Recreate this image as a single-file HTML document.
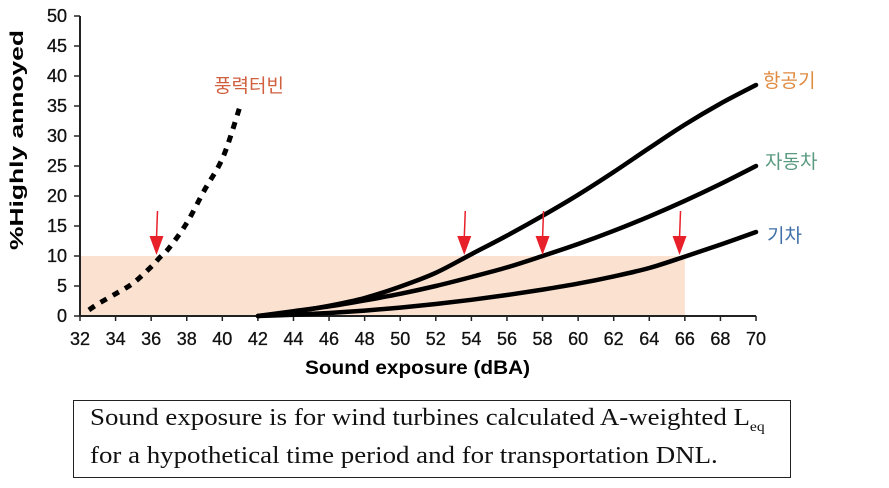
<!DOCTYPE html>
<html><head><meta charset="utf-8"><style>
body{margin:0;background:#fff;width:889px;height:488px;overflow:hidden}
svg{position:absolute;left:0;top:0}
.caption{position:absolute;left:73px;top:400px;width:718px;height:78px;border:1.5px solid #222;box-sizing:border-box;color:#111}
.caption span{position:absolute;left:16px;top:3px;font-family:"Liberation Serif",serif;font-size:24px;line-height:28px;white-space:nowrap;transform:scaleX(1.12);transform-origin:0 0}
</style></head><body>
<svg id="chart" width="889" height="400"></svg>
<div class="caption"><span>Sound exposure is for wind turbines calculated A-weighted L<sub style="font-size:14px">eq</sub><br>for a hypothetical time period and for transportation DNL.</span></div>
<script>
const xTicks=[32,34,36,38,40,42,44,46,48,50,52,54,56,58,60,62,64,66,68,70];
const yTicks=[0,5,10,15,20,25,30,35,40,45,50];
const transX=[42,44,46,48,50,52,54,56,58,60,62,64,66,68,70];
const aircraft=[0,0.7,1.7,3,4.9,7.2,10.3,13.4,16.7,20.2,24,28,31.9,35.4,38.5];
const road=[0,0.8,1.6,2.6,3.7,5,6.5,8.1,10,12,14.2,16.6,19.2,22,25];
const rail=[0,0.2,0.5,0.9,1.4,2,2.7,3.5,4.4,5.4,6.6,8,9.9,11.9,14];
const windX=[32.5,33,34,35,36,36.5,37,38,39,39.8,40.3,41];
const wind=[1,2,3.7,5.5,8.2,9.8,11.3,15.5,21,25,28.5,35];
const arrowX=[36.3,53.6,58,65.7];
const xs=v=>80+(v-32)*17.79, ys=v=>316-v*6;
const svg=document.getElementById('chart');const NS='http://www.w3.org/2000/svg';
function mk(t,a,p){const e=document.createElementNS(NS,t);for(const k in a)e.setAttribute(k,a[k]);(p||svg).appendChild(e);return e;}
let e;
e=mk('rect',{x:xs(32),y:ys(10),width:xs(66)-xs(32),height:ys(0)-ys(10),fill:'#fbe1d0'});


e=mk('line',{x1:80,y1:ys(0),x2:xs(70),y2:ys(0),stroke:'#222','stroke-width':2});


e=mk('line',{x1:80,y1:ys(50),x2:80,y2:ys(0),stroke:'#222','stroke-width':2});


xTicks.forEach(v=>{mk('line',{x1:xs(v),x2:xs(v),y1:316,y2:321,stroke:'#222','stroke-width':1.5});
e=mk('text',{x:xs(v),y:345,'text-anchor':'middle','font-family':'Liberation Sans,sans-serif','font-size':18,fill:'#111',stroke:'#111','stroke-width':0.3});e.textContent=v;

});
yTicks.forEach(v=>{mk('line',{x1:74,x2:80,y1:ys(v),y2:ys(v),stroke:'#222','stroke-width':1.5});
e=mk('text',{x:67,y:ys(v)+6,'text-anchor':'end','font-family':'Liberation Sans,sans-serif','font-size':18,fill:'#111',stroke:'#111','stroke-width':0.3});e.textContent=v;

});
e=mk('text',{x:0,y:0,transform:'translate(23,140) rotate(-90)','text-anchor':'middle','font-family':'Liberation Sans,sans-serif','font-size':18,'font-weight':'bold',textLength:220,lengthAdjust:'spacingAndGlyphs'});e.textContent='%Highly annoyed';


e=mk('text',{x:305,y:374,'font-family':'Liberation Sans,sans-serif','font-size':19,'font-weight':'bold',textLength:225,lengthAdjust:'spacingAndGlyphs'});e.textContent='Sound exposure (dBA)';


function path(X,Y){let P=X.map((x,i)=>[xs(x),ys(Y[i])]);let d='M'+P[0][0]+' '+P[0][1];
for(let i=0;i<P.length-1;i++){const p0=P[i-1]||P[i],p1=P[i],p2=P[i+1],p3=P[i+2]||p2;
d+=` C${p1[0]+(p2[0]-p0[0])/6},${p1[1]+(p2[1]-p0[1])/6} ${p2[0]-(p3[0]-p1[0])/6},${p2[1]-(p3[1]-p1[1])/6} ${p2[0]},${p2[1]}`;}return d;}
[[aircraft,'aircraft-line'],[road,'road-line'],[rail,'rail-line']].forEach(([d,n])=>{
e=mk('path',{d:path(transX,d),fill:'none',stroke:'#000','stroke-width':4.5,'stroke-linejoin':'round','stroke-linecap':'round'});

});
e=mk('path',{d:path(windX,wind),fill:'none',stroke:'#000','stroke-width':5,'stroke-dasharray':'7 7'});


arrowX.forEach(v=>{const x=xs(v),y=ys(10);
mk('line',{x1:x+1,y1:y-45,x2:x,y2:y-18,stroke:'#e8202a','stroke-width':1.5});
e=mk('polygon',{points:`${x-7},${y-20} ${x+7},${y-20} ${x},${y-1}`,fill:'#e8202a'});

});
[['풍력터빈',214,92,'#d0603f','wind-turbine-label'],['항공기',763,87,'#e08a40','aircraft-label'],['자동차',765,168,'#5a9a80','road-label'],['기차',767,242,'#3f6fa8','rail-label']].forEach(([t,x,y,c,n])=>{
e=mk('text',{x:x,y:y,'font-family':'Noto Sans CJK KR,sans-serif','font-size':19,fill:c});e.textContent=t;

});
</script>
</body></html>
